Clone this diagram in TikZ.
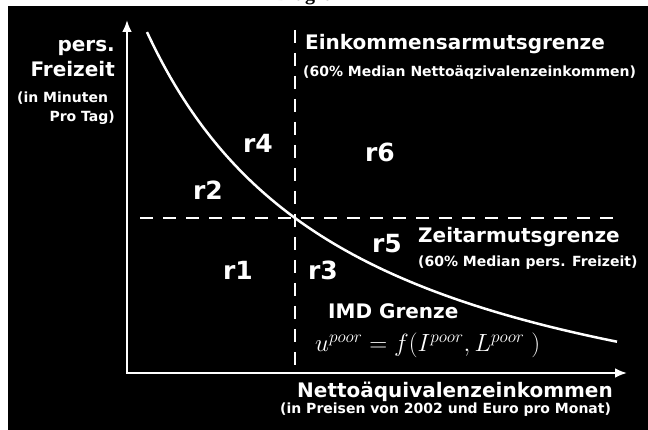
\documentclass[tikz,border=0pt]{standalone}
\usepackage{fontspec}
\setmainfont{DejaVu Sans}
\newfontfamily\titlefont{Liberation Serif}
\usetikzlibrary{arrows.meta}
\begin{document}
\begin{tikzpicture}[x=1pt,y=-1pt,
  lbl/.style={text=white,font=\bfseries\fontsize{20}{22}\selectfont,inner sep=0pt},
  small/.style={text=white,font=\bfseries\fontsize{14}{16}\selectfont,inner sep=0pt},
  reg/.style={text=white,font=\bfseries\fontsize{25}{27}\selectfont,inner sep=0pt},
  formel/.style={text=white,font=\fontsize{24}{26}\selectfont,inner sep=0pt},
  achse/.style={white,line width=2.5pt,{Latex[length=12pt,width=10pt]}-{Latex[length=12pt,width=10pt]}},
  grenze/.style={white,line width=2.5pt,dash pattern=on 13pt off 10pt},
  kurve/.style={white,line width=2.5pt}]
\useasboundingbox (0,0) rectangle (648,430);
\fill[white] (0,0) rectangle (648,430);
\node[font=\titlefont\bfseries\fontsize{20}{22}\selectfont,anchor=base west,inner sep=0pt] (titel) at (275,0.5) {Diagramm};
\fill[black] (8,6) rectangle (648,430);
% axes
\coordinate (O) at (127,373);
\coordinate (ytip) at (127,20);
\coordinate (xtip) at (627,373);
\draw[achse] (ytip) -- (O) -- (xtip);
% dashed limits
\coordinate (vtop) at (295,30);
\coordinate (vbot) at (295,373);
\coordinate (hl) at (140,218);
\coordinate (hr) at (622,218);
\draw[grenze] (vtop) -- (vbot);
\draw[grenze] (hl) -- (hr);
% IMD curve
\draw[kurve] plot[domain=147:617,samples=120] (\x,{478.1-923.3/(\x/100+0.6)});
% region labels
\node[reg] (r4) at (258,143) {r4};
\node[reg] (r6) at (380,152) {r6};
\node[reg] (r2) at (208,190) {r2};
\node[reg] (r1) at (238,270) {r1};
\node[reg] (r3) at (323,270) {r3};
\node[reg] (r5) at (387,244) {r5};
% y axis label
\node[lbl,anchor=base east] (pers) at (115,52) {pers.};
\node[lbl,anchor=base east] (frei) at (115,77) {Freizeit};
\node[small,anchor=base west] (inmin) at (17,103) {(in Minuten};
\node[small,anchor=base east] (protag) at (115,122) {Pro Tag)};
% income poverty line
\node[lbl,anchor=base west] (eink) at (305,50) {Einkommensarmutsgrenze};
\node[small,anchor=base west] (einksub) at (303,77) {(60\% Median Nettoäqzivalenzeinkommen)};
% time poverty line
\node[lbl,anchor=base west] (zeit) at (418,243) {Zeitarmutsgrenze};
\node[small,anchor=base west] (zeitsub) at (418,267) {(60\% Median pers. Freizeit)};
% IMD
\node[lbl,anchor=base west] (imd) at (328,319) {IMD Grenze};
\node[formel,anchor=base west] (formel) at (315,352) {$u^{poor} = f(I^{poor},L^{poor}\;)$};
% x axis label
\node[lbl,anchor=base west] (netto) at (297,397) {Nettoäquivalenzeinkommen};
\node[small,anchor=base west] (preise) at (280,413) {(in Preisen von 2002 und Euro pro Monat)};
\end{tikzpicture}
\end{document}
